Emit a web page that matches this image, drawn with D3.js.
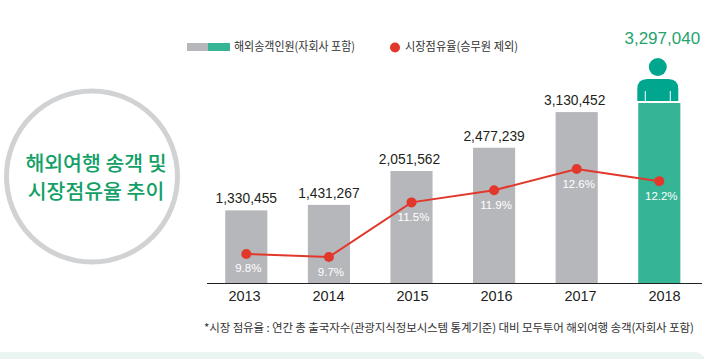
<!DOCTYPE html>
<html>
<head>
<meta charset="utf-8">
<script src="https://cdnjs.cloudflare.com/ajax/libs/d3/7.8.5/d3.min.js"></script>
<style>
  html, body { margin: 0; padding: 0; background: #fff; }
  svg { display: block; }
  .num { font-family: "Liberation Sans", Arial, sans-serif; }
  .kr { font-family: "Noto Sans CJK KR", sans-serif; }
</style>
</head>
<body>
<div id="chart"></div>
<script>
var years = ['2013', '2014', '2015', '2016', '2017', '2018'];
var passengers = [1330455, 1431267, 2051562, 2477239, 3130452, 3297040];
var share = [9.8, 9.7, 11.5, 11.9, 12.6, 12.2];

var width = 706, height = 359;
var baseline = 283;

var svg = d3.select('#chart').append('svg')
  .attr('width', width)
  .attr('height', height);

// pale band at the bottom of the page
svg.append('rect')
  .attr('x', -20).attr('y', 352)
  .attr('width', width + 20).attr('height', 30)
  .attr('rx', 12)
  .attr('fill', '#eaf5f1');

// title circle
svg.append('circle')
  .attr('cx', 92).attr('cy', 176.5).attr('r', 85.5)
  .attr('fill', '#fff')
  .attr('stroke', '#d1d2d4')
  .attr('stroke-width', 5);

svg.selectAll('.title')
  .data(['해외여행 송객 및', '시장점유율 추이'])
  .enter().append('text')
  .attr('class', 'title kr')
  .attr('x', 96)
  .attr('y', function (d, i) { return 171 + i * 28; })
  .attr('text-anchor', 'middle')
  .attr('font-size', 20.5)
  .attr('font-weight', 500)
  .attr('fill', '#12a066')
  .text(function (d) { return d; });

// scales
var x = d3.scaleBand()
  .domain(years)
  .range([204.6, 701])
  .paddingInner(0.49)
  .paddingOuter(0.25);

var xLabel = d3.scalePoint()
  .domain(years)
  .range([244, 664]);

var y = d3.scaleLinear()
  .domain([0, 3297040])
  .range([baseline, 103]);

var yShare = d3.scaleLinear()
  .domain([9.7, 12.6])
  .range([257, 169]);

// bars
svg.selectAll('.bar')
  .data(passengers)
  .enter().append('rect')
  .attr('class', 'bar')
  .attr('x', function (d, i) { return x(years[i]); })
  .attr('width', x.bandwidth())
  .attr('y', function (d) { return y(d); })
  .attr('height', function (d) { return baseline - y(d); })
  .attr('fill', function (d, i) { return i == 5 ? '#35b496' : '#b6b7bb'; });

// person icon on top of the last bar
var last = x('2018') + x.bandwidth() / 2;
var icon = svg.append('g').attr('transform', 'translate(' + last + ',0)');
icon.append('circle')
  .attr('cx', -1.5).attr('cy', 67).attr('r', 9)
  .attr('fill', '#00a78e');
icon.append('path')
  .attr('d', 'M-22,101 V89 Q-22,79 -12,79 H9 Q19,79 19,89 V101 Z')
  .attr('fill', '#00a78e');
[-14, 11].forEach(function (dx) {
  icon.append('line')
    .attr('x1', dx).attr('x2', dx)
    .attr('y1', 91).attr('y2', 101)
    .attr('stroke', '#fff')
    .attr('stroke-width', 1);
});

// axis line and years
var axis = svg.append('g')
  .attr('transform', 'translate(0,' + baseline + ')')
  .call(d3.axisBottom(xLabel).tickSize(0).tickPadding(8));
axis.select('.domain')
  .attr('d', 'M207,0.5H702')
  .attr('stroke', '#222');
axis.selectAll('text')
  .attr('class', 'num')
  .attr('font-family', '"Liberation Sans", Arial, sans-serif')
  .attr('font-size', 14.5)
  .attr('fill', '#231f20');

// value labels
svg.selectAll('.value')
  .data(passengers)
  .enter().append('text')
  .attr('class', 'value num')
  .attr('x', function (d, i) { return x(years[i]) + x.bandwidth() / 2 + (i == 5 ? 3 : 0) - (i == 2 || i == 4 ? 2 : 0); })
  .attr('y', function (d, i) { return i == 5 ? 44 : y(d) - 7; })
  .attr('text-anchor', 'middle')
  .attr('font-size', function (d, i) { return i == 5 ? 17 : 13.8; })
  .attr('fill', function (d, i) { return i == 5 ? '#1fa36f' : '#231f20'; })
  .text(function (d) { return d3.format(',')(d); });

// share line
var line = d3.line()
  .x(function (d, i) { return x(years[i]) + x.bandwidth() / 2; })
  .y(function (d) { return yShare(d); });

svg.append('path')
  .datum(share)
  .attr('d', line)
  .attr('fill', 'none')
  .attr('stroke', '#e2382b')
  .attr('stroke-width', 2);

svg.selectAll('.dot')
  .data(share)
  .enter().append('circle')
  .attr('class', 'dot')
  .attr('cx', function (d, i) { return x(years[i]) + x.bandwidth() / 2; })
  .attr('cy', function (d) { return yShare(d); })
  .attr('r', 5)
  .attr('fill', '#e2382b');

svg.selectAll('.pct')
  .data(share)
  .enter().append('text')
  .attr('class', 'pct num')
  .attr('x', function (d, i) { return x(years[i]) + x.bandwidth() / 2 + 2; })
  .attr('y', function (d) { return yShare(d) + 18.5; })
  .attr('text-anchor', 'middle')
  .attr('font-size', 11.5)
  .attr('fill', '#fff')
  .text(function (d) { return d.toFixed(1) + '%'; });

// legend
svg.append('rect').attr('x', 187).attr('y', 43).attr('width', 21).attr('height', 8).attr('fill', '#b6b7bb');
svg.append('rect').attr('x', 208).attr('y', 43).attr('width', 22).attr('height', 8).attr('fill', '#35b496');
svg.append('text')
  .attr('class', 'kr')
  .attr('x', 234).attr('y', 51)
  .attr('font-size', 12)
  .attr('textLength', 121)
  .attr('lengthAdjust', 'spacingAndGlyphs')
  .attr('fill', '#333')
  .text('해외송객인원(자회사 포함)');
svg.append('circle').attr('cx', 395).attr('cy', 47.5).attr('r', 5).attr('fill', '#e2382b');
svg.append('text')
  .attr('class', 'kr')
  .attr('x', 405).attr('y', 51)
  .attr('font-size', 12)
  .attr('textLength', 113)
  .attr('lengthAdjust', 'spacingAndGlyphs')
  .attr('fill', '#333')
  .text('시장점유율(승무원 제외)');

// footnote
svg.append('text')
  .attr('class', 'kr')
  .attr('x', 204).attr('y', 331.5)
  .attr('font-size', 11.5)
  .attr('letter-spacing', '-0.12px')
  .attr('fill', '#333')
  .text('*시장 점유율 : 연간 총 출국자수(관광지식정보시스템 통계기준) 대비 모두투어 해외여행 송객(자회사 포함)');
</script>
</body>
</html>
